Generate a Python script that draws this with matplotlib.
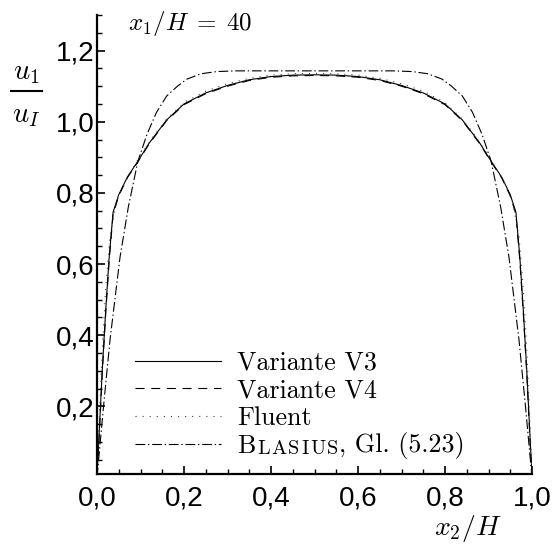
import matplotlib
matplotlib.use("Agg")
import matplotlib.pyplot as plt
from matplotlib.ticker import MultipleLocator, FixedLocator
from matplotlib.lines import Line2D

plt.rcParams["mathtext.fontset"] = "cm"
plt.rcParams["lines.scale_dashes"] = False

# Velocity profiles u1/uI over the channel height at x1/H = 40
x_v3 = [0.0, 0.004, 0.012, 0.020, 0.028, 0.037, 0.05, 0.07, 0.094, 0.12, 0.16, 0.20, 0.25,
        0.30, 0.35, 0.40, 0.45, 0.50, 0.55, 0.60, 0.65, 0.70, 0.75, 0.80, 0.84, 0.88,
        0.906, 0.93, 0.95, 0.963, 0.972, 0.980, 0.988, 0.996, 1.0]
u_v3 = [0.01, 0.10, 0.30, 0.47, 0.62, 0.746, 0.795, 0.845, 0.889, 0.940, 1.005, 1.050, 1.081,
        1.102, 1.118, 1.127, 1.131, 1.132, 1.131, 1.127, 1.118, 1.102, 1.081, 1.050, 1.005, 0.940,
        0.889, 0.845, 0.795, 0.746, 0.62, 0.47, 0.30, 0.10, 0.01]

x_v4 = x_v3
u_v4 = [0.01, 0.09, 0.29, 0.46, 0.61, 0.740, 0.792, 0.843, 0.887, 0.938, 1.003, 1.048, 1.079,
        1.100, 1.116, 1.125, 1.129, 1.130, 1.129, 1.125, 1.116, 1.100, 1.079, 1.048, 1.003, 0.938,
        0.887, 0.843, 0.792, 0.740, 0.61, 0.46, 0.29, 0.09, 0.01]

x_fl = [0.0, 0.005, 0.012, 0.02, 0.03, 0.045, 0.06, 0.08, 0.10, 0.13, 0.16, 0.20, 0.25, 0.30,
        0.35, 0.40, 0.45, 0.50, 0.55, 0.60, 0.65, 0.70, 0.75, 0.80, 0.84, 0.87, 0.90, 0.92,
        0.94, 0.955, 0.97, 0.98, 0.988, 0.995, 1.0]
u_fl = [0.01, 0.16, 0.36, 0.53, 0.68, 0.775, 0.82, 0.865, 0.905, 0.960, 1.007, 1.054, 1.086,
        1.107, 1.122, 1.131, 1.135, 1.136, 1.135, 1.131, 1.122, 1.107, 1.086, 1.054, 1.007, 0.960,
        0.905, 0.865, 0.82, 0.775, 0.68, 0.53, 0.36, 0.16, 0.01]

x_bl = [0.0, 0.015, 0.03, 0.053, 0.072, 0.094, 0.115, 0.137, 0.16, 0.185, 0.207, 0.24, 0.275,
        0.32, 0.40, 0.50, 0.60, 0.68, 0.725, 0.76, 0.793, 0.815, 0.84, 0.863, 0.885, 0.906,
        0.928, 0.947, 0.97, 0.985, 1.0]
u_bl = [0.0, 0.20, 0.388, 0.62, 0.76, 0.889, 0.965, 1.027, 1.072, 1.100, 1.120, 1.135, 1.141,
        1.143, 1.143, 1.143, 1.143, 1.143, 1.141, 1.135, 1.120, 1.100, 1.072, 1.027, 0.965, 0.889,
        0.76, 0.62, 0.388, 0.20, 0.0]

x_ticks = [0.0, 0.2, 0.4, 0.6, 0.8, 1.0]
x_ticklabels = ["0,0", "0,2", "0,4", "0,6", "0,8", "1,0"]
y_ticks = [0.2, 0.4, 0.6, 0.8, 1.0, 1.2]
y_ticklabels = ["0,2", "0,4", "0,6", "0,8", "1,0", "1,2"]

labels = ["Variante V3", "Variante V4", "Fluent", "B"]

fig = plt.figure(figsize=(5.56, 5.48), dpi=100)
ax = fig.add_axes([97 / 556, 1 - 474 / 548, 435 / 556, (474 - 15) / 548])

lw = 0.8
ax.plot(x_v3, u_v3, color="black", lw=lw, ls="-", label=labels[0])
ax.plot(x_v4, u_v4, color="black", lw=lw, ls=(0, (6.5, 4.8)), label=labels[1])
ax.plot(x_fl, u_fl, color="#444444", lw=lw, ls=(0, (0.8, 4.3)), label=labels[2])
ax.plot(x_bl, u_bl, color="black", lw=lw, ls=(0, (7.0, 2.0, 1.0, 2.0)), label=labels[3])

ax.set_xlim(0.0, 1.0)
ax.set_ylim(0.01, 1.30)

for s in ("top", "right"):
    ax.spines[s].set_visible(False)
for s in ("left", "bottom"):
    ax.spines[s].set_linewidth(1.6)

ax.xaxis.set_major_locator(FixedLocator(x_ticks))
ax.yaxis.set_major_locator(FixedLocator(y_ticks))
ax.xaxis.set_minor_locator(MultipleLocator(0.05))
ax.yaxis.set_minor_locator(MultipleLocator(0.05))
ax.set_xticklabels(x_ticklabels)
ax.set_yticklabels(y_ticklabels)

for t in ax.get_xticklabels() + ax.get_yticklabels():
    t.set_fontfamily("Liberation Sans")
    t.set_fontsize(20)

ax.tick_params(which="major", direction="in", length=6, width=1.2)
ax.tick_params(which="minor", direction="in", length=3.5, width=1.0)
ax.tick_params(axis="x", which="major", pad=8)
ax.tick_params(axis="y", which="major", pad=2)

# y-axis title as a stacked fraction u1 / uI
fig.text(26 / 556, 1 - 72 / 548, r"$u_1$", fontsize=20.5, ha="center", va="center")
fig.text(26 / 556, 1 - 115 / 548, r"$u_I$", fontsize=20.5, ha="center", va="center")
fig.add_artist(Line2D([11 / 556, 42 / 556], [1 - 91 / 548, 1 - 91 / 548],
                      color="black", lw=1.5, transform=fig.transFigure))

fig.text(468 / 556, 1 - 528 / 548, r"$x_2/H$", fontsize=20, ha="center", va="center")
fig.text(190 / 556, 1 - 24 / 548, r"$x_1/H\;=\;40$", fontsize=18, ha="center", va="center")

leg_fs = 18.7
leg = ax.legend(loc="lower left", bbox_to_anchor=(0.088, 0.035), frameon=False,
                prop={"family": "cmr10", "size": leg_fs}, handlelength=3.3,
                handletextpad=0.62, labelspacing=0.155, borderpad=0.0, borderaxespad=0.0)

# small capitals (letter-spaced) for the author name in the last entry
prev = leg.get_texts()[3]
for ch in "LASIUS":
    prev = ax.annotate(ch, xy=(1, 0), xycoords=prev, xytext=(1.2, 0),
                       textcoords="offset points", ha="left", va="bottom",
                       fontsize=leg_fs * 0.78, family="cmr10", zorder=7)
ax.annotate(", Gl. (5.23)", xy=(1, 0), xycoords=prev, ha="left", va="bottom",
            fontsize=leg_fs, family="cmr10", xytext=(0.2, -0.9), textcoords="offset points",
            zorder=8)

fig.savefig("out.png", dpi=100)
